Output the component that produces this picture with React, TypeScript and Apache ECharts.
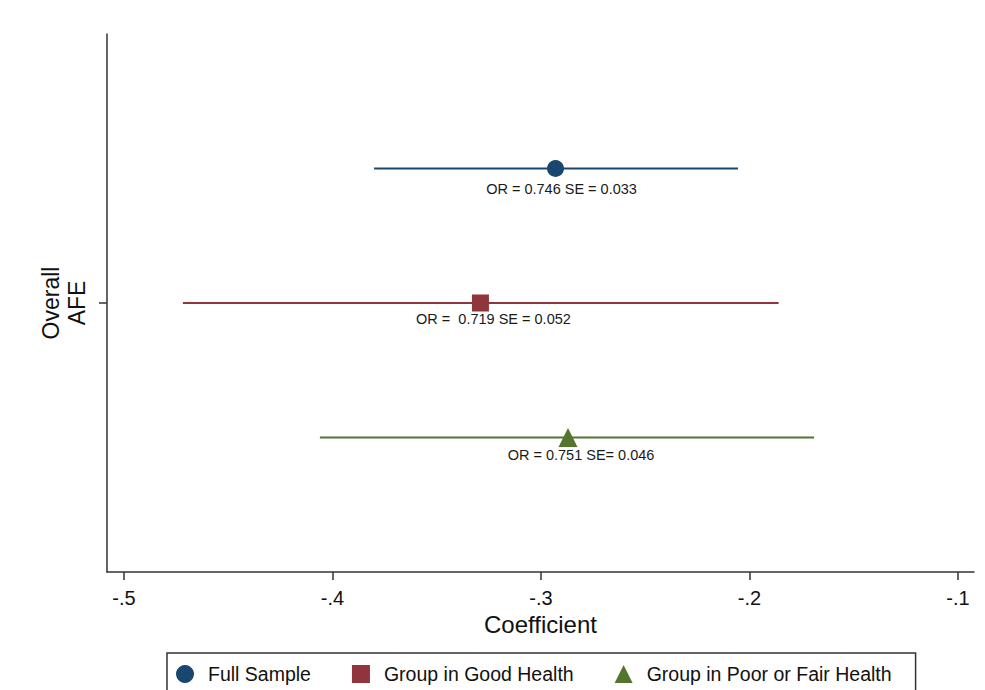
import React, { useEffect, useRef } from "react";
import * as echarts from "echarts";

const groups = ["Full Sample", "Group in Good Health", "Group in Poor or Fair Health"];
const coefficients = [-0.293, -0.329, -0.287];
const ciLow = [-0.380, -0.4717, -0.406];
const ciHigh = [-0.2055, -0.186, -0.169];
const rowPositions = [1, 2, 3];
const annotations = ["OR = 0.746 SE = 0.033", "OR =  0.719 SE = 0.052", "OR = 0.751 SE= 0.046"];
const xTicks = [-0.5, -0.4, -0.3, -0.2, -0.1];
const yTickValue = 2;
const yTickLabel = "Overall\nAFE";
const xTitle = "Coefficient";

const colors = ["#1a476f", "#90353b", "#55752f"];
const symbols = ["circle", "rect", "triangle"];
const symbolSizes = [17, 17, 19];
const labelOffsets = [
  [6, 20],
  [13, 16],
  [13, 17],
];

const FONT = "'Liberation Sans', Arial, Helvetica, sans-serif";

export default function App() {
  const ref = useRef<HTMLDivElement>(null);
  useEffect(() => {
    if (!ref.current) return;
    const chart = echarts.init(ref.current, null, { renderer: "svg" });
    const lineSeries = groups.map((g, i) => ({
      type: "line",
      name: "ci_" + i,
      data: [
        [ciLow[i], rowPositions[i]],
        [ciHigh[i], rowPositions[i]],
      ],
      symbol: "none",
      silent: true,
      lineStyle: { color: colors[i], width: 2 },
      itemStyle: { color: colors[i] },
      z: 2,
    }));
    const scatterSeries = groups.map((g, i) => ({
      type: "scatter",
      name: g,
      data: [[coefficients[i], rowPositions[i]]],
      symbol: symbols[i],
      symbolSize: symbolSizes[i],
      itemStyle: { color: colors[i], opacity: 1 },
      z: 3,
      label: {
        show: true,
        position: "inside",
        offset: labelOffsets[i],
        formatter: () => annotations[i],
        color: "#1a1a1a",
        fontSize: 14.5,
        fontFamily: FONT,
        align: "center",
        verticalAlign: "middle",
      },
    }));
    chart.setOption({
      animation: false,
      backgroundColor: "#ffffff",
      textStyle: { fontFamily: FONT },
      grid: { left: 107, right: 11, top: 34, bottom: 118, containLabel: false },
      xAxis: {
        type: "value",
        position: "bottom",
        min: -0.5081,
        max: -0.0923,
        name: xTitle,
        nameLocation: "middle",
        nameGap: 40,
        nameTextStyle: { fontSize: 24, color: "#111", fontFamily: FONT },
        axisLine: { show: true, onZero: false, lineStyle: { color: "#333", width: 1.5 } },
        axisTick: {
          show: true,
          customValues: xTicks,
          length: 8,
          lineStyle: { color: "#333", width: 1.5 },
        },
        axisLabel: {
          customValues: xTicks,
          formatter: (v: number) => v.toFixed(1).replace("0.", "."),
          fontSize: 20,
          color: "#111",
          margin: 16,
          fontFamily: FONT,
        },
        splitLine: { show: false },
      },
      yAxis: {
        type: "value",
        position: "left",
        min: 0,
        max: 4,
        inverse: true,
        axisLine: { show: true, onZero: false, lineStyle: { color: "#333", width: 1.5 } },
        axisTick: {
          show: true,
          customValues: [yTickValue],
          length: 8,
          lineStyle: { color: "#333", width: 1.5 },
        },
        axisLabel: {
          customValues: [yTickValue],
          formatter: () => yTickLabel,
          rotate: 90,
          fontSize: 23,
          lineHeight: 26,
          color: "#111",
          margin: 17,
          fontFamily: FONT,
        },
        splitLine: { show: false },
      },
      legend: {
        data: groups,
        left: 167,
        top: 653,
        orient: "horizontal",
        padding: [11, 24, 20, 9],
        itemWidth: 18,
        itemHeight: 18,
        itemGap: 41,
        borderColor: "#333",
        borderWidth: 1.5,
        backgroundColor: "#ffffff",
        textStyle: { fontSize: 19.5, color: "#111", fontFamily: FONT, padding: [0, 0, 0, 9] },
        selectedMode: false,
      },
      series: [...lineSeries, ...scatterSeries],
    });
    return () => chart.dispose();
  }, []);
  return (
    <div
      ref={ref}
      style={{ position: "fixed", left: 0, top: 0, width: 985, height: 690, background: "#fff" }}
    />
  );
}
